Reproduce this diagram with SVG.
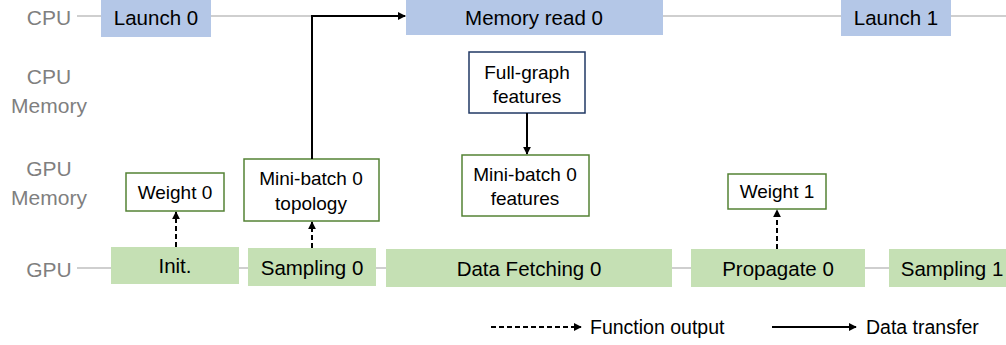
<svg xmlns="http://www.w3.org/2000/svg" width="1006" height="345" viewBox="0 0 1006 345">
<style>
.lbl{font-family:"Liberation Sans",Arial,sans-serif;font-size:21px;fill:#7f7f7f;text-anchor:middle}
.t{font-family:"Liberation Sans",Arial,sans-serif;font-size:20.5px;fill:#000;text-anchor:middle}
.s{font-family:"Liberation Sans",Arial,sans-serif;font-size:19px;fill:#000;text-anchor:middle}
.lg{font-family:"Liberation Sans",Arial,sans-serif;font-size:19.5px;fill:#000}
.cpu{fill:#b4c7e7}
.gpu{fill:#c5e0b4}
.gm{fill:#fff;stroke:#548235;stroke-width:1.5}
.cm{fill:#fff;stroke:#203864;stroke-width:1.5}
.track{stroke:#bfbfbf;stroke-width:1.5;fill:none}
.solid{stroke:#000;stroke-width:2;fill:none;marker-end:url(#ah)}
.dash{stroke:#000;stroke-width:2;fill:none;stroke-dasharray:5,3;marker-end:url(#ah)}
</style>
<defs>
<marker id="ah" viewBox="0 0 10 10" refX="9" refY="5" markerWidth="4" markerHeight="4" orient="auto" markerUnits="strokeWidth">
<path d="M0,0 L10,5 L0,10 z" fill="#000"/>
</marker>
</defs>
<g id="row-labels">
<text class="lbl" x="49" y="25">CPU</text>
<text class="lbl" x="49" y="84">CPU</text>
<text class="lbl" x="49" y="113">Memory</text>
<text class="lbl" x="49" y="176">GPU</text>
<text class="lbl" x="49" y="205">Memory</text>
<text class="lbl" x="49" y="277">GPU</text>
</g>
<g id="tracks">
<line class="track" x1="77" y1="16" x2="1006" y2="16"/>
<line class="track" x1="77" y1="268" x2="1006" y2="268"/>
</g>
<g id="launch0"><rect class="cpu" x="101" y="0" width="110" height="37"/><text class="t" x="156" y="25">Launch 0</text></g>
<g id="memread0"><rect class="cpu" x="406" y="0" width="257" height="35"/><text class="t" x="534" y="25">Memory read 0</text></g>
<g id="launch1"><rect class="cpu" x="841" y="0" width="110" height="36"/><text class="t" x="896" y="25">Launch 1</text></g>
<g id="fullgraph"><rect class="cm" x="469" y="52" width="116" height="61"/><text class="s" x="527" y="79">Full-graph</text><text class="s" x="527" y="103">features</text></g>
<g id="mb0feat"><rect class="gm" x="462" y="155" width="127" height="61"/><text class="s" x="525" y="181">Mini-batch 0</text><text class="s" x="525" y="205">features</text></g>
<g id="mb0topo"><rect class="gm" x="244" y="159" width="135" height="62"/><text class="s" x="311" y="185">Mini-batch 0</text><text class="s" x="311" y="210">topology</text></g>
<g id="weight0"><rect class="gm" x="126" y="173" width="98" height="38"/><text class="s" x="175" y="199">Weight 0</text></g>
<g id="weight1"><rect class="gm" x="728" y="174" width="98" height="35"/><text class="s" x="777" y="198">Weight 1</text></g>
<g id="init"><rect class="gpu" x="111" y="247" width="128" height="37"/><text class="t" x="175" y="273">Init.</text></g>
<g id="sampling0"><rect class="gpu" x="248" y="248" width="128" height="38"/><text class="t" x="312" y="275">Sampling 0</text></g>
<g id="datafetch0"><rect class="gpu" x="386" y="249" width="286" height="38"/><text class="t" x="529" y="276">Data Fetching 0</text></g>
<g id="propagate0"><rect class="gpu" x="691" y="249" width="174" height="38"/><text class="t" x="778" y="276">Propagate 0</text></g>
<g id="sampling1"><rect class="gpu" x="889" y="249" width="130" height="38"/><text class="t" x="952" y="276">Sampling 1</text></g>
<g id="connectors">
<path class="solid" d="M312,159 V16 H405"/>
<path class="solid" d="M527,113 V154"/>
<path class="dash" d="M176,247 V212"/>
<path class="dash" d="M312,248 V222"/>
<path class="dash" d="M777,249 V210"/>
</g>
<g id="legend">
<path class="dash" d="M491,327 H581"/>
<text class="lg" x="590" y="334">Function output</text>
<path class="solid" d="M772,327 H856"/>
<text class="lg" x="866" y="334">Data transfer</text>
</g>
</svg>
